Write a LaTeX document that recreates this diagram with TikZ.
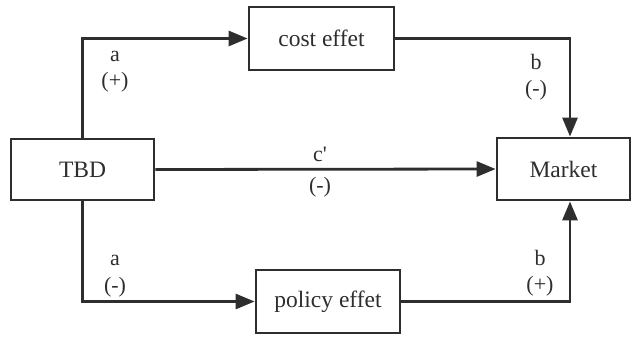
\documentclass[tikz,border=0pt]{standalone}
\usepackage{fontspec}
\setmainfont{Liberation Serif}
\usetikzlibrary{arrows.meta}
\definecolor{ink}{HTML}{2E2E2E}
\begin{document}
\begin{tikzpicture}[x=1pt,y=-1pt,
  box/.style={draw=ink,line width=2.8pt,fill=white,text=ink,rectangle,inner sep=0pt,
    font=\fontsize{23.5}{26}\selectfont},
  conn/.style={draw=ink,line width=2.8pt,-{Triangle[length=19pt,width=15pt]}},
  lab/.style={text=ink,inner sep=0pt,font=\fontsize{22}{26}\selectfont}]
\useasboundingbox (0,0) rectangle (632,337);
\node[box,minimum width=143pt,minimum height=61pt] (tbd) at (82.5,169.5) {TBD};
\node[box,minimum width=145pt,minimum height=63pt] (cost) at (321.5,38.5) {cost effet};
\node[box,minimum width=144pt,minimum height=63pt] (policy) at (328,301.5) {policy effet};
\node[box,minimum width=133pt,minimum height=62pt] (market) at (563.5,169) {Market};
\coordinate (mtop) at ([xshift=6.5pt]market.north);
\coordinate (mbot) at ([xshift=6.5pt]market.south);
\draw[conn] (tbd.north) |- (cost.west);
\draw[conn] (cost.east) -| (mtop);
\draw[conn] (tbd.south) |- (policy.west);
\draw[conn] (policy.east) -| (mbot);
\draw[conn] (tbd.east) -- (market.west);
\node[lab] (la1) at (115,56) {a};
\node[lab] (la1s) at (115,82) {(+)};
\node[lab] (lb1) at (536,62) {b};
\node[lab] (lb1s) at (536,90) {(-)};
\node[lab] (lc) at (320,154) {c\textquotesingle};
\node[lab] (lcs) at (320,187) {(-)};
\node[lab] (la2) at (115,260) {a};
\node[lab] (la2s) at (115,287) {(-)};
\node[lab] (lb2) at (540,258) {b};
\node[lab] (lb2s) at (540,286) {(+)};
\end{tikzpicture}
\end{document}
